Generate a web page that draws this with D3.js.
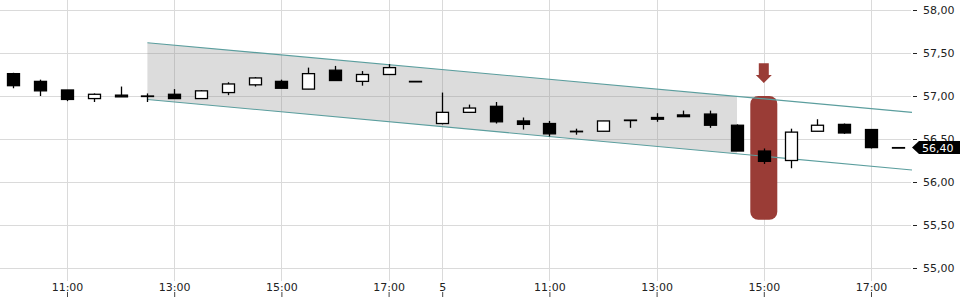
<!DOCTYPE html>
<html>
<head>
<meta charset="utf-8">
<script src="https://cdn.jsdelivr.net/npm/d3@7"></script>
<style>
  body { margin: 0; background: #fff; }
  svg { display: block; font-family: "DejaVu Sans", sans-serif; }
</style>
</head>
<body>
<div id="main"></div>
<script>
// candle times (30 min bars over two sessions)
const times = [
  '10:00', '10:30', '11:00', '11:30', '12:00', '12:30', '13:00', '13:30',
  '14:00', '14:30', '15:00', '15:30', '16:00', '16:30', '17:00', '17:30',
  '09:00', '09:30', '10:00', '10:30', '11:00', '11:30', '12:00', '12:30',
  '13:00', '13:30', '14:00', '14:30', '15:00', '15:30', '16:00', '16:30',
  '17:00', '17:30'
];
const opens = [
  57.26, 57.17, 57.07, 56.97, 57.01, 57.00, 57.02, 56.97, 57.04, 57.13, 57.17, 57.08, 57.30, 57.17, 57.25, 57.17,
  56.68, 56.81, 56.88, 56.71, 56.68, 56.59, 56.59, 56.72, 56.75, 56.78, 56.79, 56.66, 56.36, 56.25, 56.59, 56.67,
  56.61, 56.40
];
const highs = [
  57.27, 57.19, 57.07, 57.03, 57.11, 57.03, 57.08, 57.07, 57.16, 57.22, 57.19, 57.33, 57.35, 57.29, 57.37, 57.17,
  57.04, 56.90, 56.93, 56.75, 56.71, 56.62, 56.71, 56.72, 56.80, 56.83, 56.83, 56.67, 56.39, 56.62, 56.73, 56.68,
  56.61, 56.40
];
const lows = [
  57.09, 57.00, 56.94, 56.93, 56.99, 56.93, 56.97, 56.97, 57.01, 57.11, 57.09, 57.08, 57.18, 57.12, 57.25, 57.17,
  56.67, 56.81, 56.68, 56.61, 56.53, 56.55, 56.59, 56.63, 56.70, 56.76, 56.63, 56.36, 56.21, 56.16, 56.59, 56.56,
  56.39, 56.40
];
const closes = [
  57.12, 57.06, 56.96, 57.02, 56.99, 57.00, 56.97, 57.06, 57.14, 57.21, 57.09, 57.26, 57.18, 57.25, 57.33, 57.17,
  56.81, 56.86, 56.70, 56.67, 56.56, 56.59, 56.71, 56.72, 56.73, 56.76, 56.66, 56.36, 56.24, 56.58, 56.66, 56.57,
  56.40, 56.40
];
// x axis ticks (candle index) and their labels
const xTickIdx = [2, 6, 10, 14, 16, 20, 24, 28, 32];
const xTickLabels = ['11:00', '13:00', '15:00', '17:00', '5', '11:00', '13:00', '15:00', '17:00'];
// y axis ticks
const yTicks = [55, 55.5, 56, 56.5, 57, 57.5, 58];
// trend channel: [index, price] anchors
const channelUpper = [[5, 57.62], [33.53, 56.81]];
const channelLower = [[5, 56.96], [33.53, 56.14]];
const channelFillEnd = 27;
// highlighted candle
const highlightIdx = 28;
const highlightRange = [55.56, 57.0];
const arrowRange = [57.15, 57.38];
const lastPrice = 56.40;

const width = 960;
const height = 300;
const plotRight = 912;

const comma = d3.formatLocale({ decimal: ',', thousands: '.', grouping: [3], currency: ['', ''] }).format('.2f');

const x = d3.scaleLinear().domain([-0.5, 33.53]).range([0, plotRight]);
const y = d3.scaleLinear().domain([55, 58]).range([268, 10]);

const svg = d3.select('#main')
  .append('svg')
  .attr('width', width)
  .attr('height', height);

// grid
const grid = svg.append('g').attr('stroke', '#dadada').attr('stroke-width', 1);
grid.selectAll('.hg')
  .data(yTicks)
  .enter()
  .append('line')
  .attr('x1', 0)
  .attr('x2', plotRight - 1)
  .attr('y1', d => Math.round(y(d)) + 0.5)
  .attr('y2', d => Math.round(y(d)) + 0.5);
grid.selectAll('.vg')
  .data(xTickIdx)
  .enter()
  .append('line')
  .attr('x1', d => Math.round(x(d)) + 0.5)
  .attr('x2', d => Math.round(x(d)) + 0.5)
  .attr('y1', 0)
  .attr('y2', 281);

// channel line helpers (extend line through anchors)
function lineAt(anchors, i) {
  const [[i0, p0], [i1, p1]] = anchors;
  return p0 + (p1 - p0) * (i - i0) / (i1 - i0);
}
const chStart = channelUpper[0][0];
svg.append('path')
  .attr('fill', 'rgba(140,140,140,0.3)')
  .attr('d', d3.line()([
    [x(chStart), y(lineAt(channelUpper, chStart))],
    [x(channelFillEnd), y(lineAt(channelUpper, channelFillEnd))],
    [x(channelFillEnd), y(lineAt(channelLower, channelFillEnd))],
    [x(chStart), y(lineAt(channelLower, chStart))]
  ]) + 'Z');

// highlight box and arrow
const hx = x(highlightIdx);
svg.append('rect')
  .attr('x', hx - 13.5)
  .attr('width', 27)
  .attr('y', y(highlightRange[1]))
  .attr('height', y(highlightRange[0]) - y(highlightRange[1]))
  .attr('rx', 8)
  .attr('fill', '#9a3c36');
const aTop = y(arrowRange[1]);
const aTip = y(arrowRange[0]);
svg.append('path')
  .attr('fill', '#9a3c36')
  .attr('d', `M${hx - 5},${aTop}H${hx + 5}V${aTip - 8}H${hx + 8}L${hx},${aTip}L${hx - 8},${aTip - 8}H${hx - 5}Z`);

// channel lines
[channelUpper, channelLower].forEach((anchors) => {
  svg.append('line')
    .attr('x1', x(chStart))
    .attr('y1', y(lineAt(anchors, chStart)))
    .attr('x2', plotRight)
    .attr('y2', y(lineAt(anchors, x.invert(plotRight))))
    .attr('stroke', '#5b9e9e')
    .attr('stroke-width', 1.1);
});

// candles
const candles = times.map((t, i) => ({ i, t, o: opens[i], h: highs[i], l: lows[i], c: closes[i] }));
const cg = svg.append('g')
  .selectAll('g')
  .data(candles)
  .enter()
  .append('g');
cg.append('line')
  .attr('x1', d => Math.round(x(d.i)) + 0.5)
  .attr('x2', d => Math.round(x(d.i)) + 0.5)
  .attr('y1', d => y(d.h))
  .attr('y2', d => y(d.l))
  .attr('stroke', '#000')
  .attr('stroke-width', 1.3);
cg.append('rect')
  .attr('x', d => Math.round(x(d.i)) - 5.5)
  .attr('width', 12)
  .attr('y', d => y(Math.max(d.o, d.c)))
  .attr('height', d => Math.max(0.5, Math.abs(y(d.o) - y(d.c))))
  .attr('fill', d => (d.c > d.o ? '#fff' : '#000'))
  .attr('stroke', '#000')
  .attr('stroke-width', 1.3);

// y axis
const yAxis = svg.append('g')
  .attr('transform', `translate(${plotRight + 1},0)`)
  .call(d3.axisRight(y).tickValues(yTicks).tickSize(4).tickPadding(6).tickFormat(comma));
yAxis.select('.domain').remove();
yAxis.selectAll('line').attr('stroke', '#222');
yAxis.selectAll('text')
  .attr('fill', '#222')
  .style('font-size', '11px')
  .style('font-family', '"DejaVu Sans", sans-serif');

// x axis
const xAxis = svg.append('g')
  .attr('transform', 'translate(0,292)')
  .call(d3.axisBottom(x).tickValues(xTickIdx).tickSize(5)
    .tickFormat((d, k) => xTickLabels[k]));
xAxis.select('.domain').remove();
xAxis.selectAll('line').attr('stroke', '#444');
xAxis.selectAll('text')
  .attr('y', -9)
  .attr('fill', '#222')
  .style('font-size', '11px')
  .style('font-family', '"DejaVu Sans", sans-serif');

// last price label
const py = y(lastPrice);
svg.append('path')
  .attr('fill', '#000')
  .attr('d', `M${plotRight},${py}L${plotRight + 7},${py - 6.5}H${width}V${py + 6.5}H${plotRight + 7}Z`);
svg.append('text')
  .attr('x', plotRight + 10)
  .attr('y', py)
  .attr('dy', '0.36em')
  .attr('fill', '#fff')
  .style('font-size', '11px')
  .text(comma(lastPrice));
</script>
</body>
</html>
